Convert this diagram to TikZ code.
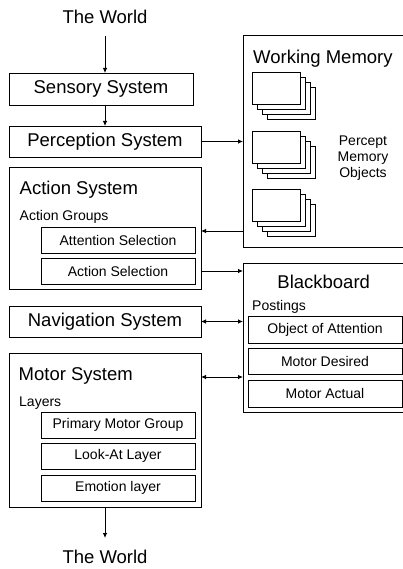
\documentclass[tikz,border=0pt]{standalone}
\usepackage{fontspec}
\setmainfont{Liberation Sans}
\usetikzlibrary{arrows.meta,calc}
\begin{document}
\begin{tikzpicture}[x=1pt,y=-1pt,
 box/.style={draw,line width=0.8pt,inner sep=0pt,outer sep=0pt,anchor=north west},
 big/.style={font=\fontsize{18.5}{22}\selectfont},
 small/.style={font=\fontsize{14}{16.3}\selectfont},
 lbl/.style={inner sep=0pt,anchor=base west},
 arr/.style={line width=0.8pt,-{Latex[length=5pt,width=4.5pt]}},
 darr/.style={line width=0.8pt,{Latex[length=5pt,width=4.5pt]}-{Latex[length=5pt,width=4.5pt]}},
 card/.style={draw,fill=white,line width=0.8pt}]
\clip (0,0) rectangle (403,569);
\fill[white] (0,0) rectangle (403,569);
% left column
\node[big,inner xsep=0pt,inner ysep=12pt,anchor=south] (world1) at (105,36) {The World};
\node[box,big,minimum width=184pt,minimum height=32pt] (sensory) at (9,73) {Sensory System};
\node[box,big,minimum width=192pt,minimum height=31pt] (perception) at (9,126) {Perception System};
\node[box,minimum width=192pt,minimum height=122pt] (action) at (9,167) {};
\node[big,lbl] (actionlbl) at (19.5,194.5) {Action System};
\node[small,lbl] (actgrp) at (19.5,220) {Action Groups};
\node[box,small,minimum width=154pt,minimum height=26pt] (attn) at (41,227) {Attention Selection};
\node[box,small,minimum width=154pt,minimum height=26pt] (actsel) at (41,258) {Action Selection};
\node[box,big,minimum width=192pt,minimum height=31pt] (nav) at (9,306) {Navigation System};
\node[box,minimum width=192pt,minimum height=154pt] (motor) at (9,353) {};
\node[big,lbl] (motorlbl) at (18.5,380.7) {Motor System};
\node[small,lbl] (layers) at (19,406) {Layers};
\node[box,small,minimum width=154pt,minimum height=26pt] (pmg) at (41,412) {Primary Motor Group};
\node[box,small,minimum width=154pt,minimum height=26pt] (look) at (41,443) {Look-At Layer};
\node[box,small,minimum width=154pt,minimum height=26pt] (emo) at (41,475) {Emotion layer};
\node[big,inner xsep=0pt,inner ysep=12pt,anchor=north] (world2) at (105,538) {The World};
% working memory
\node[box,minimum width=180pt,minimum height=212pt] (wm) at (243,35) {};
\node[big,lbl] (wmlbl) at (253,63.5) {Working Memory};
\foreach \y in {72.7,131,189.3} {
  \foreach \i in {3,2,1,0} {
    \draw[card] (252.7+5*\i,\y+5*\i) rectangle ++(48,32);
  }
}
\node[small,align=center,inner sep=0pt] (pmo) at (363,158) {Percept\\Memory\\Objects};
% blackboard
\node[box,minimum width=180pt,minimum height=149pt] (bb) at (243,263) {};
\node[big,inner sep=0pt,anchor=base] (bblbl) at (323.7,288.3) {Blackboard};
\node[small,lbl] (postings) at (252,310) {Postings};
\node[box,small,minimum width=154pt,minimum height=27pt] (ooa) at (248,316) {Object of Attention};
\node[box,small,minimum width=154pt,minimum height=26pt] (md) at (248,348) {Motor Desired};
\node[box,small,minimum width=154pt,minimum height=27pt] (ma) at (248,380) {Motor Actual};
% connectors
\draw[arr] (world1.south) -- (world1.south |- sensory.north);
\draw[arr] (sensory.south -| perception.north) -- (perception.north);
\draw[arr] (perception.east) -- (perception.east -| wm.west);
\coordinate (wmout) at (243,231);
\draw[arr] (wmout) -- (wmout -| action.east);
\draw[arr] (actsel.east -| action.east) -- (actsel.east -| bb.west);
\draw[darr] (nav.east) -- (nav.east -| bb.west);
\coordinate (motorbb) at (201,377);
\draw[darr] (motorbb -| motor.east) -- (motorbb -| bb.west);
\draw[arr] (motor.south) -- (world2.north);
\end{tikzpicture}
\end{document}
